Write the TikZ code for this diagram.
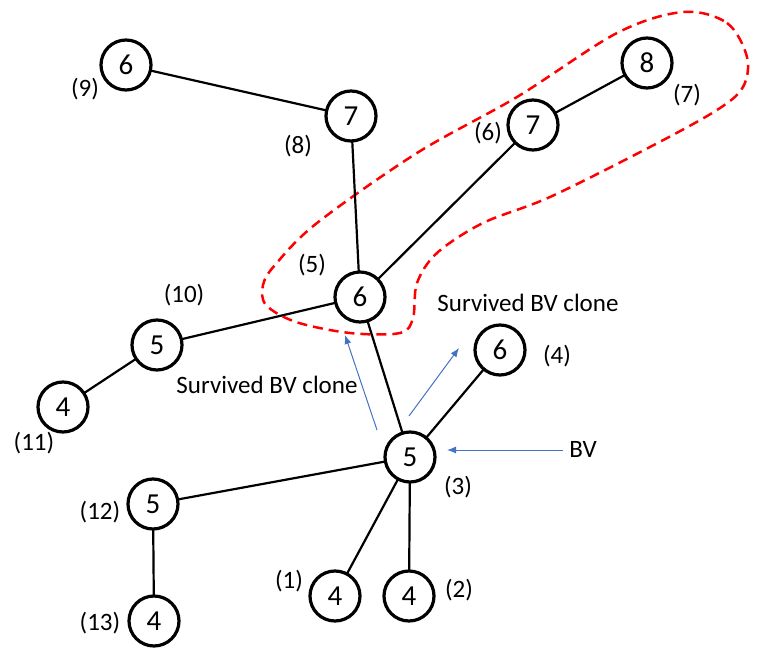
\documentclass[tikz,border=0pt]{standalone}
\usepackage{fontspec}
\setmainfont{Carlito}
\usepackage{tkz-graph}
\usetikzlibrary{arrows.meta}

\definecolor{bvblue}{RGB}{68,114,196}

\tikzset{
	VertexStyle/.style = {draw, shape=circle, line width=3.2pt, minimum size=50pt,
		inner sep=0pt, fill=white, text=black, font=\fontsize{29}{33}\selectfont},
	EdgeStyle/.style = {line width=2.2pt, color=black},
	idx/.style = {font=\fontsize{25}{29}\selectfont, inner sep=0pt},
	bvarrow/.style = {draw=bvblue, line width=1pt, -{Latex[length=9pt,width=7pt]}}
}

\begin{document}
\begin{tikzpicture}[x=1pt, y=-1pt]
		\useasboundingbox (0,0) rectangle (771,668);
	% clone region
		\draw[red, line width=2.5pt, dash pattern=on 10pt off 6pt]
			plot[smooth cycle, tension=0.55] coordinates {(683,12) (727,23) (747,57) (743,87) (717,110)
			(650,147) (550,197) (483,223) (437,253) (417,283) (413,318) (400,333) (350,333)
			(296,322) (266,305) (263,285) (275,265) (317,223) (417,153) (517,97) (617,33)};
		\Vertex[x=126 ,y=65,L=6]{v9}
		\Vertex[x=351 ,y=116,L=7]{v8}
		\Vertex[x=647 ,y=63,L=8]{v7}
		\Vertex[x=533 ,y=125,L=7]{v6}
		\Vertex[x=360 ,y=297,L=6]{v5}
		\Vertex[x=157 ,y=345,L=5]{v10}
		\Vertex[x=63 ,y=407,L=4]{v11}
		\Vertex[x=500 ,y=350,L=6]{v4}
		\Vertex[x=410 ,y=457,L=5]{v3}
		\Vertex[x=153 ,y=504,L=5]{v12}
		\Vertex[x=154 ,y=621,L=4]{v13}
		\Vertex[x=335 ,y=596,L=4]{v1}
		\Vertex[x=409 ,y=596,L=4]{v2}
		\Edge(v9)(v8)
		\Edge(v8)(v5)
		\Edge(v5)(v6)
		\Edge(v6)(v7)
		\Edge(v5)(v10)
		\Edge(v10)(v11)
		\Edge(v3)(v5)
		\Edge(v3)(v4)
		\Edge(v3)(v12)
		\Edge(v12)(v13)
		\Edge(v3)(v1)
		\Edge(v3)(v2)
	% order labels
		\node[idx] (l9) at (85,89) {(9)};
		\node[idx] (l8) at (298,146) {(8)};
		\node[idx] (l7) at (687,95) {(7)};
		\node[idx] (l6) at (488,133) {(6)};
		\node[idx] (l5) at (312,265) {(5)};
		\node[idx] (l10) at (184,295) {(10)};
		\node[idx] (l11) at (34,443) {(11)};
		\node[idx] (l4) at (557,356) {(4)};
		\node[idx] (l3) at (458,487) {(3)};
		\node[idx] (l12) at (100,512) {(12)};
		\node[idx] (l13) at (100,623) {(13)};
		\node[idx] (l1) at (289,581) {(1)};
		\node[idx] (l2) at (459,590) {(2)};
	% BV and clones
		\node[idx] (clone1) at (528,303) {Survived BV clone};
		\node[idx] (clone2) at (267,385) {Survived BV clone};
		\node[idx] (bv) at (583,449) {BV};
		\coordinate (c1s) at (377,430);
		\coordinate (c1e) at (345,335);
		\coordinate (c2s) at (409,416);
		\coordinate (c2e) at (459,348);
		\coordinate (bvs) at (563,450);
		\coordinate (bve) at (447,450);
		\draw[bvarrow] (c1s) -- (c1e);
		\draw[bvarrow] (c2s) -- (c2e);
		\draw[bvarrow] (bvs) -- (bve);
	\end{tikzpicture}
\end{document}
